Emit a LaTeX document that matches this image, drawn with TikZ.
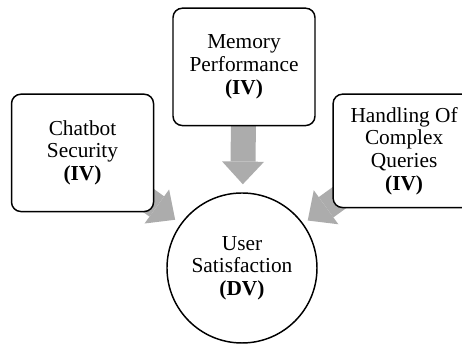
\documentclass[tikz,border=0pt]{standalone}
\usepackage{fontspec}
\setmainfont{Liberation Serif}
\usepackage{tikz}
\usetikzlibrary{arrows.meta,backgrounds}
\usetikzlibrary{shapes,fit,calc,positioning}
\tikzset{box/.style={draw, thick, line width=1.1pt, rounded corners=7pt, fill=white, align=center, minimum width=106.5pt, minimum height=88pt, inner sep=2pt, font=\fontsize{16}{17}\selectfont}}
\tikzset{dv/.style={draw, circle, line width=1.1pt, fill=white, align=center, minimum size=112.5pt, inner sep=0pt, font=\fontsize{16}{17}\selectfont}}
\tikzset{line/.style={draw, gray!65, line width=18.75pt, -{Triangle[width=31.5pt, length=17pt, line width=0pt]}, shorten >=5pt}}

\begin{document}
\begin{tikzpicture}
			\useasboundingbox (-181.5pt,-57.75pt) rectangle (165pt,201pt);
			\node [dv]                                                 (user)     {User\\Satisfaction\\\textbf{(DV)}};
			\node [box, above=49.5pt of user, xshift=1.5pt]            (memory)   {Memory\\Performance\\\textbf{(IV)}};
			\node [box, left=13.5pt of memory, yshift=-64.5pt]         (chatbot)  {Chatbot\\Security\\\textbf{(IV)}};
			\node [box, right=12.5pt of memory, yshift=-63pt, minimum height=85pt] (handling) {Handling Of\\Complex\\Queries\\\textbf{(IV)}};
			%
			\begin{scope}[on background layer]
			\path [line, shorten >=6pt] (memory.center) -- (user);
			\path [line] (chatbot.center)  -- (user);
			\path [line, shorten >=4pt] (handling.center) -- (user);
			\end{scope}
			\end{tikzpicture}
\end{document}
